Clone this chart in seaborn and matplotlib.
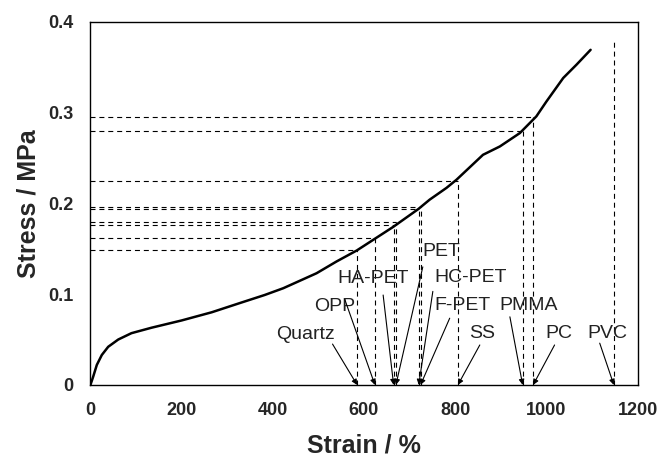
import numpy as np
import matplotlib
matplotlib.use("Agg")
import matplotlib.pyplot as plt
import pandas as pd
import seaborn as sns

# stress-strain curve
strain_curve = [0, 6, 14, 25, 39, 61, 90, 134, 200, 266, 331, 382, 423, 496, 540,
                584, 624, 664, 719, 744, 781, 803, 861, 898, 942, 978, 1000, 1037,
                1066, 1097]
stress_curve = [0, 0.009, 0.022, 0.033, 0.042, 0.050, 0.057, 0.063, 0.071, 0.080,
                0.0907, 0.099, 0.1065, 0.123, 0.136, 0.148, 0.161, 0.174, 0.1936,
                0.204, 0.217, 0.226, 0.2534, 0.2626, 0.2774, 0.2957, 0.312, 0.338,
                0.3526, 0.369]

# materials and their strain / stress marks
materials = ["Quartz", "OPP", "HA-PET", "PET", "HC-PET", "F-PET", "SS", "PMMA", "PC", "PVC"]
mat_strain = [585, 624, 665, 670, 720, 724, 806, 948, 971, 1148]
mat_stress = [0.149, 0.162, 0.176, 0.179, 0.194, 0.196, 0.225, 0.280, 0.295, 0.381]

x_ticks = [0, 200, 400, 600, 800, 1000, 1200]
y_ticks = [0, 0.1, 0.2, 0.3, 0.4]
y_ticklabels = ["0", "0.1", "0.2", "0.3", "0.4"]

# label text centres and arrow tails (data coords)
label_xy = [(472, 0.055), (536, 0.086), (621, 0.117), (770, 0.147), (834, 0.118),
            (816, 0.088), (858, 0.057), (961, 0.088), (1027, 0.057), (1134, 0.057)]
arrow_tail = [(531, 0.045), (558, 0.094), (642, 0.099), (729, 0.130), (751, 0.103),
              (788, 0.0735), (854, 0.044), (920, 0.075), (1018, 0.044), (1117, 0.046)]

sns.set_style("white")
plt.rcParams['font.family'] = ['Liberation Sans', 'DejaVu Sans']

df = pd.DataFrame({"strain": strain_curve, "stress": stress_curve})

fig = plt.figure(figsize=(6.6, 4.61), dpi=100)
ax = fig.add_axes([0.137, 0.165, 0.829, 0.788])

dash = (0, (4.5, 3.5))
for i, name in enumerate(materials):
    x, y = mat_strain[i], mat_stress[i]
    ax.plot([x, x], [0, y], color="black", lw=0.8, linestyle=dash, zorder=1)
    if name != "PVC":
        ax.plot([0, x], [y, y], color="black", lw=0.8, linestyle=dash, zorder=1)

sns.lineplot(data=df, x="strain", y="stress", ax=ax, color="black", lw=1.8, zorder=3)

for i, name in enumerate(materials):
    ax.text(label_xy[i][0], label_xy[i][1], name, ha="center", va="center",
            fontsize=14, color="#222222", zorder=4)
    ax.annotate("", xy=(mat_strain[i], 0), xytext=arrow_tail[i],
                arrowprops=dict(arrowstyle="-|>", color="black", lw=0.8,
                                mutation_scale=8, shrinkA=0, shrinkB=0), zorder=4)

ax.set_xlim(0, 1200)
ax.set_ylim(0, 0.4)
ax.set_xticks(x_ticks)
ax.set_yticks(y_ticks)
ax.set_yticklabels(y_ticklabels)
ax.tick_params(direction="in", length=4, width=0.8, color="black",
               labelsize=13, pad=12)
for lab in ax.get_xticklabels() + ax.get_yticklabels():
    lab.set_fontweight("bold")
ax.set_xlabel("Strain / %", fontsize=18, fontweight="bold", labelpad=11)
ax.set_ylabel("Stress / MPa", fontsize=18, fontweight="bold", labelpad=6)
for s in ax.spines.values():
    s.set_color("black")
    s.set_linewidth(1.0)

fig.savefig("out.png", dpi=100)
